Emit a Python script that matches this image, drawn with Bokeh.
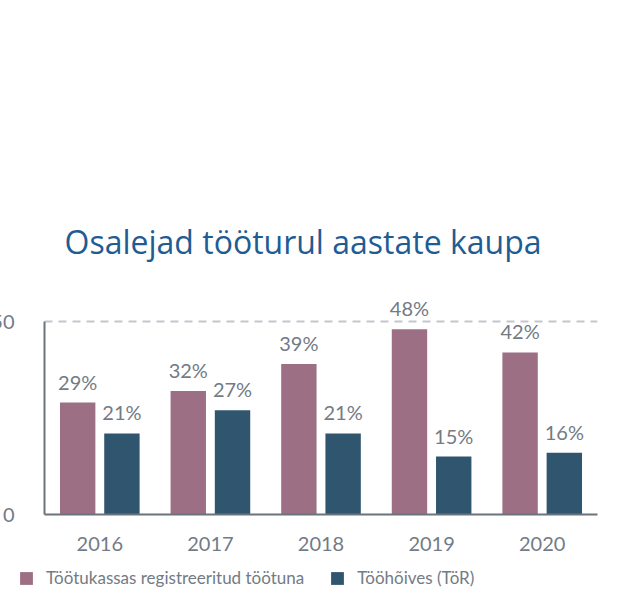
from bokeh.plotting import figure
from bokeh.layouts import column
from bokeh.models import FactorRange, Range1d, FixedTicker, ColumnDataSource, Legend, LegendItem
from bokeh.transform import dodge
from bokeh.core.properties import value
from bokeh.embed import file_html
from bokeh.resources import INLINE

years = ["2016", "2017", "2018", "2019", "2020"]
registered = [29, 32, 39, 48, 42]
employed = [21, 27, 21, 15, 16]
series_names = ["Töötukassas registreeritud töötuna", "Tööhõives (TöR)"]
y_ticks = [0, 50]
title_text = "Osalejad tööturul aastate kaupa"

PINK = "#9c6f84"
BLUE = "#30566f"
GREY_TXT = "#737b85"
AXIS = "#6b737d"
FONT = "Lato"

src = ColumnDataSource(dict(
    year=years,
    reg=registered,
    emp=employed,
    reg_lbl=[f"{v}%" for v in registered],
    emp_lbl=[f"{v}%" for v in employed],
))

p = figure(
    x_range=FactorRange(*years, range_padding=0),
    y_range=Range1d(0, 64),
    frame_width=553,
    frame_height=247,
    output_backend="svg",
    toolbar_location=None,
    min_border_left=56,
    min_border_right=12,
    min_border_top=267,
    min_border_bottom=50,
    title=title_text,
)
p.outline_line_color = None

p.title.align = "left"
p.title.offset = 20
p.title.text_font = "Open Sans"
p.title.text_font_size = "32px"
p.title.text_font_style = "normal"
p.title.text_color = "#1f5c94"

r1 = p.vbar(x=dodge("year", -0.2, range=p.x_range), top="reg", width=0.32, source=src,
            fill_color=PINK, line_color=None)
r2 = p.vbar(x=dodge("year", 0.2, range=p.x_range), top="emp", width=0.32, source=src,
            fill_color=BLUE, line_color=None)

for col, lbl, off in (("reg", "reg_lbl", -0.2), ("emp", "emp_lbl", 0.2)):
    p.text(x=dodge("year", off, range=p.x_range), y=col, text=lbl, source=src,
           text_align="center", text_baseline="alphabetic", y_offset=-21,
           text_font=value(FONT), text_font_size="20px", text_color=GREY_TXT)

# axes
p.yaxis.ticker = FixedTicker(ticks=y_ticks)
p.yaxis.bounds = (0, 50)
p.yaxis.axis_line_color = AXIS
p.yaxis.axis_line_width = 2
p.yaxis.major_tick_line_color = None
p.yaxis.minor_tick_line_color = None
p.yaxis.major_tick_out = 0
p.yaxis.major_label_standoff = 30
p.yaxis.major_label_text_font = FONT
p.yaxis.major_label_text_font_size = "20px"
p.yaxis.major_label_text_color = GREY_TXT

p.xaxis.axis_line_color = AXIS
p.xaxis.axis_line_width = 2
p.xaxis.major_tick_line_color = None
p.xaxis.major_tick_out = 0
p.xaxis.major_label_standoff = 22
p.xaxis.major_label_text_font = FONT
p.xaxis.major_label_text_font_size = "20px"
p.xaxis.major_label_text_color = GREY_TXT

p.xgrid.grid_line_color = None
p.ygrid.ticker = FixedTicker(ticks=[50])
p.ygrid.grid_line_color = "#c3c6cb"
p.ygrid.grid_line_width = 2
p.ygrid.grid_line_dash = "8 6"

# legend strip (swatch renderers are zero-height proxies)
leg = figure(width=621, height=36, x_axis_type=None, y_axis_type=None,
             output_backend="svg", toolbar_location=None, min_border=0)
leg.outline_line_color = None
leg.xgrid.visible = False
leg.ygrid.visible = False
leg.styles = {"margin-left": "-26px"}
l1 = leg.vbar(x=[0], top=[0], width=0, fill_color=PINK, line_color=None)
l2 = leg.vbar(x=[0], top=[0], width=0, fill_color=BLUE, line_color=None)

legend = Legend(
    items=[LegendItem(label=series_names[0], renderers=[l1]),
           LegendItem(label=series_names[1], renderers=[l2])],
    orientation="horizontal",
    location=(0, 12),
    glyph_width=16, glyph_height=16,
    label_standoff=12, spacing=25, padding=0, margin=0,
    label_text_font=FONT, label_text_font_size="17px", label_text_color=GREY_TXT,
    border_line_color=None, background_fill_alpha=0,
)
leg.add_layout(legend, "center")

layout = column(p, leg, spacing=0)
layout.styles = {"margin-left": "-12px"}

open("out.html", "w").write(file_html(layout, INLINE))
